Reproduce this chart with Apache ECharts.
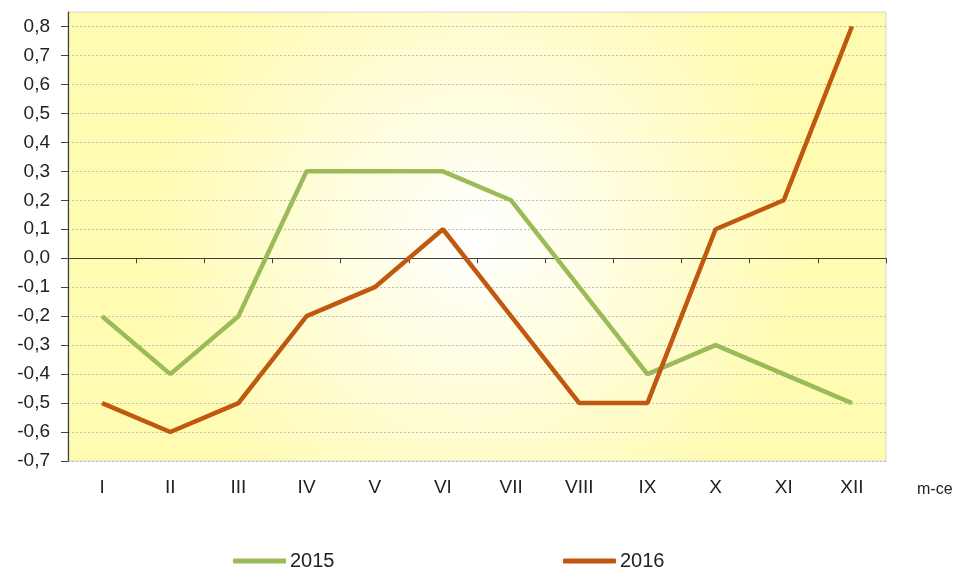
<!DOCTYPE html>
<html>
<head>
<meta charset="utf-8">
<script src="https://cdn.jsdelivr.net/npm/echarts@6/dist/echarts.min.js"></script>
<style>
  html, body { margin: 0; padding: 0; background: #fff; }
  #chart { width: 968px; height: 570px; }
</style>
</head>
<body>
<div id="chart"></div>
<script>
const months = ['I', 'II', 'III', 'IV', 'V', 'VI', 'VII', 'VIII', 'IX', 'X', 'XI', 'XII'];
const y2015 = [-0.2, -0.4, -0.2, 0.3, 0.3, 0.3, 0.2, -0.1, -0.4, -0.3, -0.4, -0.5];
const y2016 = [-0.5, -0.6, -0.5, -0.2, -0.1, 0.1, -0.2, -0.5, -0.5, 0.1, 0.2, 0.8];
const yTicks = [-0.7, -0.6, -0.5, -0.4, -0.3, -0.2, -0.1, 0, 0.1, 0.2, 0.3, 0.4, 0.5, 0.6, 0.7, 0.8];

const GREEN = '#9bbb59';
const ORANGE = '#c0580f';
const FONT = 'Liberation Sans, Arial, sans-serif';
const FS = 19;

const chart = echarts.init(document.getElementById('chart'));

// podpisy osi Y z przecinkiem dziesiętnym
const fmt = v => v.toFixed(1).replace('.', ',').replace('-0,0', '0,0');

const legendStyle = {
  itemWidth: 53, itemHeight: 5, itemGap: 4,
  icon: 'roundRect',
  textStyle: { color: '#222', fontSize: 20, fontFamily: FONT, padding: [0, 0, 0, -1] },
};

chart.setOption({
  animation: false,
  grid: {
    left: 68, right: 82, top: 12, bottom: 109,
    show: true,
    borderColor: '#d6d6d6',
    borderWidth: 1,
    backgroundColor: new echarts.graphic.RadialGradient(0.5, 0.5, 0.75, [
      { offset: 0, color: '#ffffff' },
      { offset: 1, color: '#fffbb0' },
    ]),
  },
  legend: [
    Object.assign({ data: ['2015'], left: 228, top: 546 }, legendStyle),
    Object.assign({ data: ['2016'], left: 558, top: 546 }, legendStyle),
  ],
  xAxis: [
    {
      type: 'category',
      data: months,
      boundaryGap: true,
      axisLine: { onZero: true, lineStyle: { color: '#404040', width: 1.2 } },
      axisTick: { show: true, length: 5, lineStyle: { color: '#404040' } },
      axisLabel: { show: false },
      splitLine: { show: false },
    },
    {
      type: 'category',
      data: months,
      position: 'bottom',
      boundaryGap: true,
      axisLine: { show: false },
      axisTick: { show: false },
      axisLabel: { color: '#222', fontSize: FS, fontFamily: FONT, margin: 17 },
    },
  ],
  yAxis: {
    type: 'value',
    min: -0.7,
    max: 0.85,
    interval: 0.1,
    axisLine: { show: true, lineStyle: { color: '#404040', width: 1.2 } },
    axisTick: { show: true, length: 7, inside: false, customValues: yTicks, lineStyle: { color: '#404040' } },
    axisLabel: {
      customValues: yTicks,
      formatter: fmt,
      color: '#222', fontSize: FS, fontFamily: FONT, margin: 18,
    },
    splitLine: { show: true, lineStyle: { color: '#bdbdbd', type: [2, 2], width: 1 } },
  },
  graphic: [
    {
      type: 'text', left: 917, top: 482,
      style: { text: 'm-ce', fill: '#222', font: '16px ' + FONT },
    },
  ],
  series: [
    {
      name: '2015', type: 'line', data: y2015,
      symbol: 'none',
      lineStyle: { color: GREEN, width: 4.5 },
      itemStyle: { color: GREEN },
      z: 3,
    },
    {
      name: '2016', type: 'line', data: y2016,
      symbol: 'none',
      lineStyle: { color: ORANGE, width: 4.5 },
      itemStyle: { color: ORANGE },
      z: 4,
    },
  ],
});
</script>
</body>
</html>
